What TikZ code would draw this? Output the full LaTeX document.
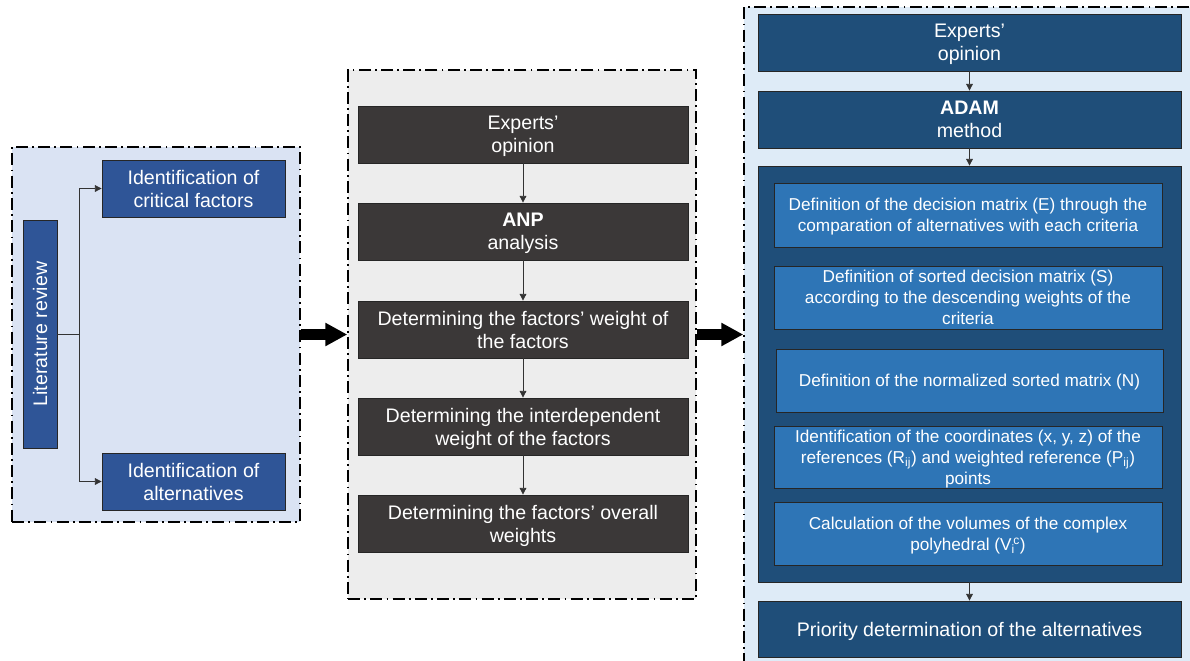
\documentclass[tikz,border=0pt]{standalone}
\usepackage{fontspec}
\setmainfont{Liberation Sans}
\usetikzlibrary{arrows.meta}
\definecolor{leftbg}{HTML}{DAE3F3}
\definecolor{rightbg}{HTML}{DEEBF7}
\definecolor{midbg}{HTML}{EDEDED}
\definecolor{bluebox}{HTML}{2F5597}
\definecolor{navybox}{HTML}{1F4E79}
\definecolor{innerbox}{HTML}{2E75B6}
\definecolor{darkbox}{HTML}{3B3838}
\tikzset{
  sz/.style 2 args={minimum width=#1*0.75pt, minimum height=#2*0.75pt},
  panel/.style={draw=black, line width=1.1pt,
    dash pattern=on 9pt off 3.2pt on 1.3pt off 3.2pt, inner sep=0pt},
  boxbase/.style={draw=black!85, line width=0.6pt, text=white, align=center, inner sep=0pt, text depth=0pt},
  bigtxt/.style={font=\fontsize{14.7}{17.4}\selectfont},
  smalltxt/.style={font=\fontsize{12.9}{15.8}\selectfont},
  lbox/.style={boxbase, bigtxt, fill=bluebox},
  mbox/.style={boxbase, bigtxt, fill=darkbox},
  rbox/.style={boxbase, bigtxt, fill=navybox},
  ibox/.style={boxbase, smalltxt, fill=innerbox},
  conn/.style={draw=black!80, line width=0.6pt, -{Triangle[length=5pt,width=5pt]}},
  bigarrow/.style={line width=8pt, -{Triangle[length=16.5pt,width=16.5pt]}},
}
\begin{document}
\begin{tikzpicture}[x=0.75pt, y=-0.75pt]
\useasboundingbox (0,0) rectangle (1190,661);
\clip (0,0) rectangle (1190,661);
% panels
\node[panel, fill=leftbg, sz={288}{375}] (P1) at (156,334.5) {};
\node[panel, fill=midbg, sz={348}{529}] (P2) at (522,334.5) {};
\node[panel, fill=rightbg, sz={471}{683}] (P3) at (979.5,348.5) {};
% left panel
\node[lbox, rotate=90, sz={228}{34}] (lit) at (40,334) {Literature review};
\node[lbox, sz={183}{57}] (crit) at (193.5,188.5) {Identification of\\critical factors};
\node[lbox, sz={183}{57}] (alt) at (193.5,481.5) {Identification of\\alternatives};
\coordinate (split) at (79,334);
\draw[draw=black!80, line width=0.6pt] (lit.south |- split) -- (split);
\draw[conn] (split) |- (crit.west);
\draw[conn] (split) |- (alt.west);
% middle panel
\node[mbox, sz={330}{57}] (m1) at (523,134.5) {Experts’\\opinion};
\node[mbox, sz={330}{57}] (m2) at (523,231.5) {\textbf{ANP}\\analysis};
\node[mbox, sz={330}{57}] (m3) at (523,329.5) {Determining the factors’ weight of\\the factors};
\node[mbox, sz={330}{57}] (m4) at (523,426.5) {Determining the interdependent\\weight of the factors};
\node[mbox, sz={330}{57}] (m5) at (523,523.5) {Determining the factors’ overall\\weights};
\draw[conn] (m1) -- (m2);
\draw[conn] (m2) -- (m3);
\draw[conn] (m3) -- (m4);
\draw[conn] (m4) -- (m5);
% right panel
\node[rbox, sz={423}{57}] (r1) at (969.5,42.5) {Experts’\\opinion};
\node[rbox, sz={423}{57}] (r2) at (969.5,119.5) {\textbf{ADAM}\\method};
\node[rbox, sz={423}{416}] (r3) at (969.5,374) {};
\node[rbox, sz={423}{56}] (r4) at (969.5,629) {Priority determination of the alternatives};
\node[ibox, sz={388}{64}] (i1) at (968,215) {Definition of the decision matrix (E) through the\\comparation of alternatives with each criteria};
\node[ibox, sz={388}{63}] (i2) at (968,297.5) {Definition of sorted decision matrix (S)\\according to the descending weights of the\\criteria};
\node[ibox, sz={387}{63}] (i3) at (969.5,380.5) {Definition of the normalized sorted matrix (N)};
\node[ibox, sz={388}{62}] (i4) at (968,457) {Identification of the coordinates (x, y, z) of the\\references (R\textsubscript{ij}) and weighted reference (P\textsubscript{ij})\\points};
\node[ibox, sz={388}{63}] (i5) at (968,533.5) {Calculation of the volumes of the complex\\polyhedral (V\textsubscript{i}\kern-0.1em\textsuperscript{c})};
\draw[conn] (r1) -- (r2);
\draw[conn] (r2) -- (r3);
\draw[conn] (r3) -- (r4);
% big arrows between panels
\draw[bigarrow] (P1.east) -- (P2.west);
\draw[bigarrow] (P2.east) -- (P2.east -| P3.west);
\end{tikzpicture}
\end{document}
